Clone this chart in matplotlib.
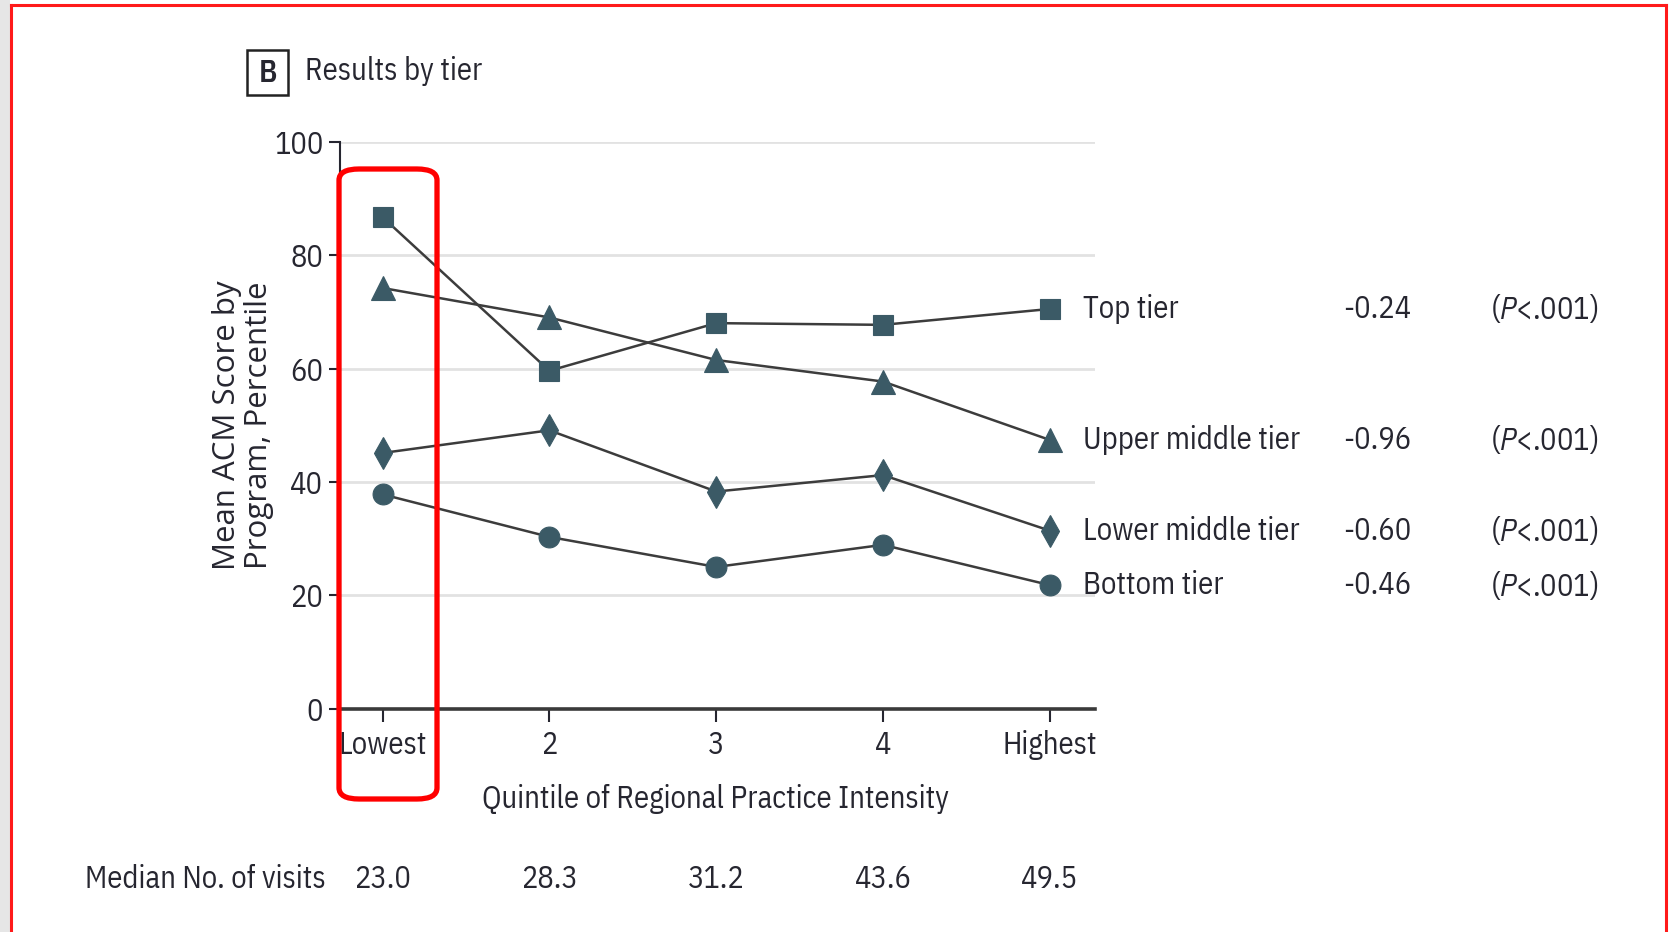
import matplotlib
matplotlib.use("Agg")
import matplotlib.pyplot as plt
from matplotlib.patches import FancyBboxPatch, Rectangle
from matplotlib.lines import Line2D

# Data
quintiles = ["Lowest", "2", "3", "4", "Highest"]
median_visits = ["23.0", "28.3", "31.2", "43.6", "49.5"]
tiers = ["Top tier", "Upper middle tier", "Lower middle tier", "Bottom tier"]
top_tier = [86.7, 59.6, 68.0, 67.7, 70.5]
upper_middle_tier = [74.2, 69.0, 61.5, 57.7, 47.4]
lower_middle_tier = [45.1, 49.1, 38.3, 41.2, 31.4]
bottom_tier = [37.8, 30.3, 25.0, 28.9, 21.8]
slopes = ["-0.24", "-0.96", "-0.60", "-0.46"]
p_values = ["<.001", "<.001", "<.001", "<.001"]
y_ticks = [0, 20, 40, 60, 80, 100]

NARROW = ["IBM Plex Sans Condensed", "Roboto Condensed", "DejaVu Sans"]
WIDE = ["Open Sans", "DejaVu Sans"]
INK = "#262630"
MARK = "#3b5a66"
FS = 22

plt.rcParams["mathtext.fontset"] = "custom"
plt.rcParams["mathtext.rm"] = "IBM Plex Sans Condensed"
plt.rcParams["mathtext.it"] = "IBM Plex Sans Condensed:italic"

W, H = 1671, 932
fig = plt.figure(figsize=(W / 100, H / 100), dpi=100)
fig.patch.set_facecolor("white")


def fx(px):
    return px / W


def fy(py):
    return 1 - py / H


# page edge: grey strip and red frame
fig.add_artist(Rectangle((0, 0), fx(10), 1, transform=fig.transFigure,
                         facecolor="#e6e6e6", edgecolor="none", zorder=0))
frame = dict(transform=fig.transFigure, color="#ff1a1a", lw=2.2)
fig.add_artist(Line2D([fx(11), fx(11)], [0, fy(5)], **frame))
fig.add_artist(Line2D([fx(11), fx(1666)], [fy(5), fy(5)], **frame))
fig.add_artist(Line2D([fx(1666), fx(1666)], [0, fy(5)], **frame))

ax_left, ax_right = 340, 1094.5
ax_top, ax_bottom = 141.7, 708.7
ax_h = ax_bottom - ax_top
ax = fig.add_axes([fx(ax_left), fy(ax_bottom), fx(ax_right - ax_left), ax_h / H])

x = list(range(len(quintiles)))
series = [top_tier, upper_middle_tier, lower_middle_tier, bottom_tier]
markers = ["s", "^", "d", "o"]
sizes = [15, 17, 16, 15]

for vals, m, ms in zip(series, markers, sizes):
    ax.plot(x, vals, color="#3c3c3c", lw=1.8, zorder=3)
    ax.plot(x, vals, linestyle="none", marker=m, markersize=ms,
            markerfacecolor=MARK, markeredgecolor=MARK, markeredgewidth=0.8,
            zorder=4)

ax.set_xlim(-0.255, 4.268)
ax.set_ylim(0, 100)
ax.set_yticks(y_ticks)
ax.set_yticklabels([str(t) for t in y_ticks], family=NARROW, fontsize=FS, color=INK)
ax.set_xticks(x)
ax.set_xticklabels(quintiles, family=NARROW, fontsize=FS, color=INK)
ax.tick_params(axis="y", length=8, width=1.5, color=INK, pad=4)
ax.tick_params(axis="x", length=9, width=1.5, color=INK, pad=6)

for t in y_ticks[1:]:
    ax.axhline(t, color="#e2e2e2", lw=2, zorder=1)

for side in ["top", "right"]:
    ax.spines[side].set_visible(False)
ax.spines["left"].set_color(INK)
ax.spines["left"].set_linewidth(1.5)
ax.spines["bottom"].set_color("#3a3a3a")
ax.spines["bottom"].set_linewidth(2.6)
ax.set_facecolor("none")

ax.set_ylabel("Mean ACM Score by\nProgram, Percentile", family=WIDE, fontsize=22.5,
              color=INK, linespacing=1.12, va="center")
ax.yaxis.set_label_coords((243 - ax_left) / (ax_right - ax_left), 0.5)
ax.set_xlabel("Quintile of Regional Practice Intensity", family=NARROW,
              fontsize=FS, color=INK, va="center")
ax.xaxis.set_label_coords((716 - ax_left) / (ax_right - ax_left),
                          -(799 - ax_bottom) / ax_h)

# labels at line ends: tier name, slope and P value
for name, vals, s, p in zip(tiers, series, slopes, p_values):
    y = vals[-1]
    ax.annotate(name, xy=(4, y), xytext=(33, 0), textcoords="offset pixels",
                ha="left", va="center", family=NARROW, fontsize=FS, color=INK,
                annotation_clip=False)
    yy = fy(ax_bottom) + (y / 100) * ax_h / H
    fig.text(fx(1343), yy, s, family=NARROW, fontsize=FS, color=INK,
             ha="left", va="center")
    fig.text(fx(1490), yy, r"($\mathit{P}$" + p + ")", family=NARROW, fontsize=FS,
             color=INK, ha="left", va="center")

# median visits row
fig.text(fx(85), fy(879), "Median No. of visits", family=NARROW, fontsize=FS,
         color=INK, ha="left", va="center")
for i, v in enumerate(median_visits):
    xpx = 382.6 + i * 166.8
    fig.text(fx(xpx), fy(879), v, family=NARROW, fontsize=FS, color=INK,
             ha="center", va="center")

# panel title
fig.add_artist(Rectangle((fx(247), fy(95)), fx(41), (95 - 50) / H,
                         transform=fig.transFigure, facecolor="white",
                         edgecolor="#222222", lw=1.8))
fig.text(fx(267.5), fy(72.5), "B", family=NARROW, fontsize=FS, color=INK,
         ha="center", va="center", weight="semibold")
fig.text(fx(305), fy(71), "Results by tier", family=NARROW, fontsize=FS, color=INK,
         ha="left", va="center")

# highlight box around the lowest quintile
fig.add_artist(FancyBboxPatch((fx(339), fy(799)), fx(98), (799 - 169) / H,
                              boxstyle="round,pad=0,rounding_size=0.012",
                              transform=fig.transFigure, facecolor="none",
                              edgecolor="#ff0000", lw=3.8, zorder=10))

fig.savefig("out.png", dpi=100)
